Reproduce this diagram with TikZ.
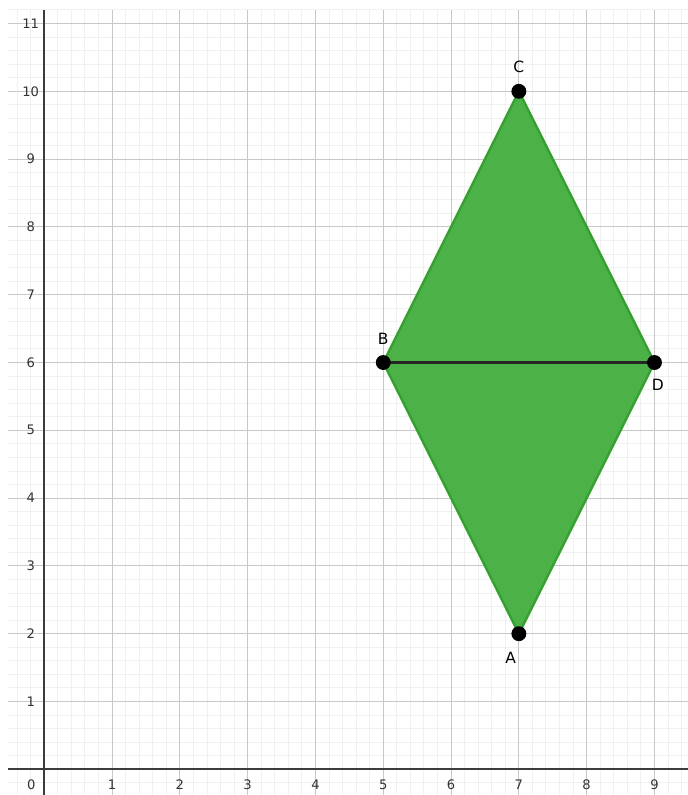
\documentclass[tikz,border=0pt]{standalone}
\usepackage{fontspec}
\setsansfont{DejaVu Sans}
\usetikzlibrary{calc}
\definecolor{rhombfill}{RGB}{76,178,72}
\definecolor{rhombedge}{RGB}{52,160,48}
\definecolor{minorgrid}{RGB}{240,240,240}
\definecolor{majorgrid}{RGB}{200,200,200}
\definecolor{axisgray}{RGB}{60,60,60}
\tikzset{
  dot/.style={circle, fill=black, inner sep=0pt, minimum size=0.22cm},
  ticklbl/.style={font=\sffamily\fontsize{5.5}{6}\selectfont, text=black!80},
  ptlbl/.style={font=\sffamily\fontsize{6.5}{7}\selectfont}
}
\begin{document}
\begin{tikzpicture}
  \useasboundingbox (-0.653,-0.379) rectangle (9.494,11.347);
  % grid and axes
  \draw[minorgrid, line width=0.4pt, step=0.2] (-0.53,-0.379) grid (9.494,11.2);
  \draw[majorgrid, line width=0.45pt, step=1] (-0.53,-0.379) grid (9.494,11.2);
  \draw[axisgray, line width=0.85pt] (-0.53,0) -- (9.494,0);
  \draw[axisgray, line width=0.85pt] (0,-0.379) -- (0,11.2);
  \node[ticklbl] (o) at (-0.19,-0.23) {0};
  \foreach \i in {1,...,9} \node[ticklbl] (x\i) at (\i,-0.23) {\i};
  \foreach \i in {1,...,11} \node[ticklbl] (y\i) at (-0.2,\i) {\i};
  % rhombus
  \coordinate (A) at (7,2);
  \coordinate (B) at (5,6);
  \coordinate (C) at (7,10);
  \coordinate (D) at (9,6);
  \filldraw[fill=rhombfill, draw=rhombedge, line width=1pt, line join=round] (A) -- (B) -- (C) -- (D) -- cycle;
  \draw[black!85, line width=1.1pt] (B) -- (D);
  \foreach \p in {A,B,C,D} \node[dot] (dot\p) at (\p) {};
  \node[ptlbl] (labA) at ($(A)+(-0.12,-0.35)$) {A};
  \node[ptlbl] (labB) at ($(B)+(0,0.35)$) {B};
  \node[ptlbl] (labC) at ($(C)+(0,0.36)$) {C};
  \node[ptlbl] (labD) at ($(D)+(0.05,-0.33)$) {D};
\end{tikzpicture}
\end{document}
